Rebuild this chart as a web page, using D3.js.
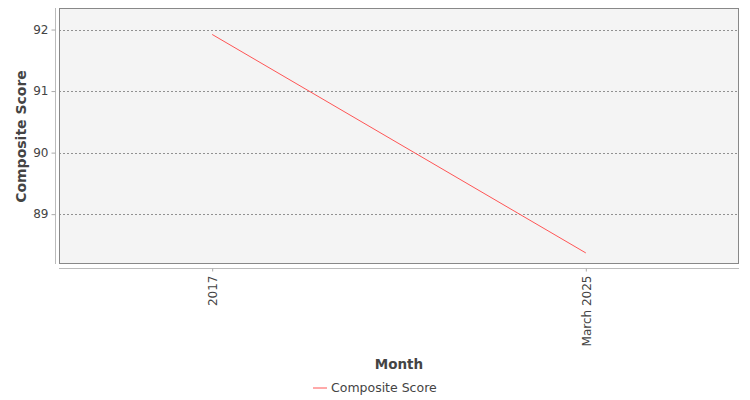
<!DOCTYPE html>
<html>
<head>
<meta charset="utf-8">
<script src="https://cdn.jsdelivr.net/npm/d3@7"></script>
<style>
  body { margin: 0; background: #fff; }
  svg { font-family: "DejaVu Sans", sans-serif; }
</style>
</head>
<body>
<div id="viz"></div>
<script>
var categories = ['2017', 'March 2025'];
var scores = [91.92, 88.37];
var yTicks = [89, 90, 91, 92];
var seriesName = 'Composite Score';

var width = 750,
    height = 400,
    plotLeft = 59,
    plotRight = 739,
    plotTop = 8,
    plotBottom = 264;

var svg = d3.select('#viz').append('svg')
    .attr('width', width)
    .attr('height', height);

var xScale = d3.scalePoint()
    .domain(categories)
    .range([plotLeft, plotRight])
    .padding(0.41);

var yScale = d3.scaleLinear()
    .domain([88.19, 92.35])
    .range([plotBottom, plotTop]);

// plot background
svg.append('rect')
    .attr('x', plotLeft)
    .attr('y', plotTop)
    .attr('width', plotRight - plotLeft)
    .attr('height', plotBottom - plotTop)
    .attr('fill', '#f4f4f4');

// grid
svg.append('g').selectAll('line').data(yTicks)
    .enter().append('line')
    .attr('x1', plotLeft)
    .attr('x2', plotRight)
    .attr('y1', function(d) { return Math.round(yScale(d)) + 0.5; })
    .attr('y2', function(d) { return Math.round(yScale(d)) + 0.5; })
    .attr('stroke', '#777')
    .attr('stroke-width', 0.8)
    .attr('stroke-dasharray', '2,2');

// border
svg.append('rect')
    .attr('x', plotLeft + 0.5)
    .attr('y', plotTop + 0.5)
    .attr('width', plotRight - plotLeft - 1)
    .attr('height', plotBottom - plotTop - 1)
    .attr('fill', 'none')
    .attr('stroke', '#888');

// y axis
var yAxis = svg.append('g')
    .attr('transform', 'translate(55.5,0)')
    .call(d3.axisLeft(yScale).tickValues(yTicks).tickSize(4).tickPadding(3).tickFormat(d3.format('d')));
yAxis.select('.domain').attr('stroke', '#bbb').attr('d', 'M0,' + plotTop + 'V' + plotBottom);
yAxis.selectAll('.tick line').attr('stroke', '#aaa');
yAxis.selectAll('.tick text')
    .attr('fill', '#444')
    .style('font-size', '12px')
    .style('font-family', '"DejaVu Sans", sans-serif');

// x axis
var xAxis = svg.append('g')
    .attr('transform', 'translate(0,268.5)')
    .call(d3.axisBottom(xScale).tickSize(3).tickPadding(2));
xAxis.select('.domain').attr('stroke', '#bbb').attr('d', 'M' + plotLeft + ',0H' + plotRight);
xAxis.selectAll('.tick line').attr('stroke', '#aaa');
xAxis.selectAll('.tick text')
    .attr('fill', '#444')
    .style('font-size', '12px')
    .style('font-family', '"DejaVu Sans", sans-serif')
    .attr('transform', 'rotate(-90)')
    .attr('text-anchor', 'end')
    .attr('x', -7)
    .attr('y', 0)
    .attr('dy', '0.35em');

// line
var line = d3.line()
    .x(function(d, i) { return xScale(categories[i]); })
    .y(function(d) { return yScale(d); });

svg.append('path')
    .datum(scores)
    .attr('d', line)
    .attr('fill', 'none')
    .attr('stroke', '#ff5555')
    .attr('stroke-width', 1);

// axis labels
svg.append('text')
    .attr('transform', 'translate(25.5,' + ((plotTop + plotBottom) / 2 + 0.5) + ') rotate(-90)')
    .attr('text-anchor', 'middle')
    .attr('fill', '#444')
    .style('font-size', '14px')
    .style('font-weight', 'bold')
    .text('Composite Score');

svg.append('text')
    .attr('x', (plotLeft + plotRight) / 2)
    .attr('y', 369)
    .attr('text-anchor', 'middle')
    .attr('fill', '#444')
    .style('font-size', '13.5px')
    .style('font-weight', 'bold')
    .text('Month');

// legend
var legend = svg.append('g').attr('transform', 'translate(313,388)');
legend.append('line')
    .attr('x1', 0)
    .attr('x2', 14)
    .attr('stroke', '#ff5555');
legend.append('text')
    .attr('x', 18)
    .attr('dy', '0.35em')
    .attr('fill', '#444')
    .style('font-size', '12.5px')
    .text(seriesName);
</script>
</body>
</html>
